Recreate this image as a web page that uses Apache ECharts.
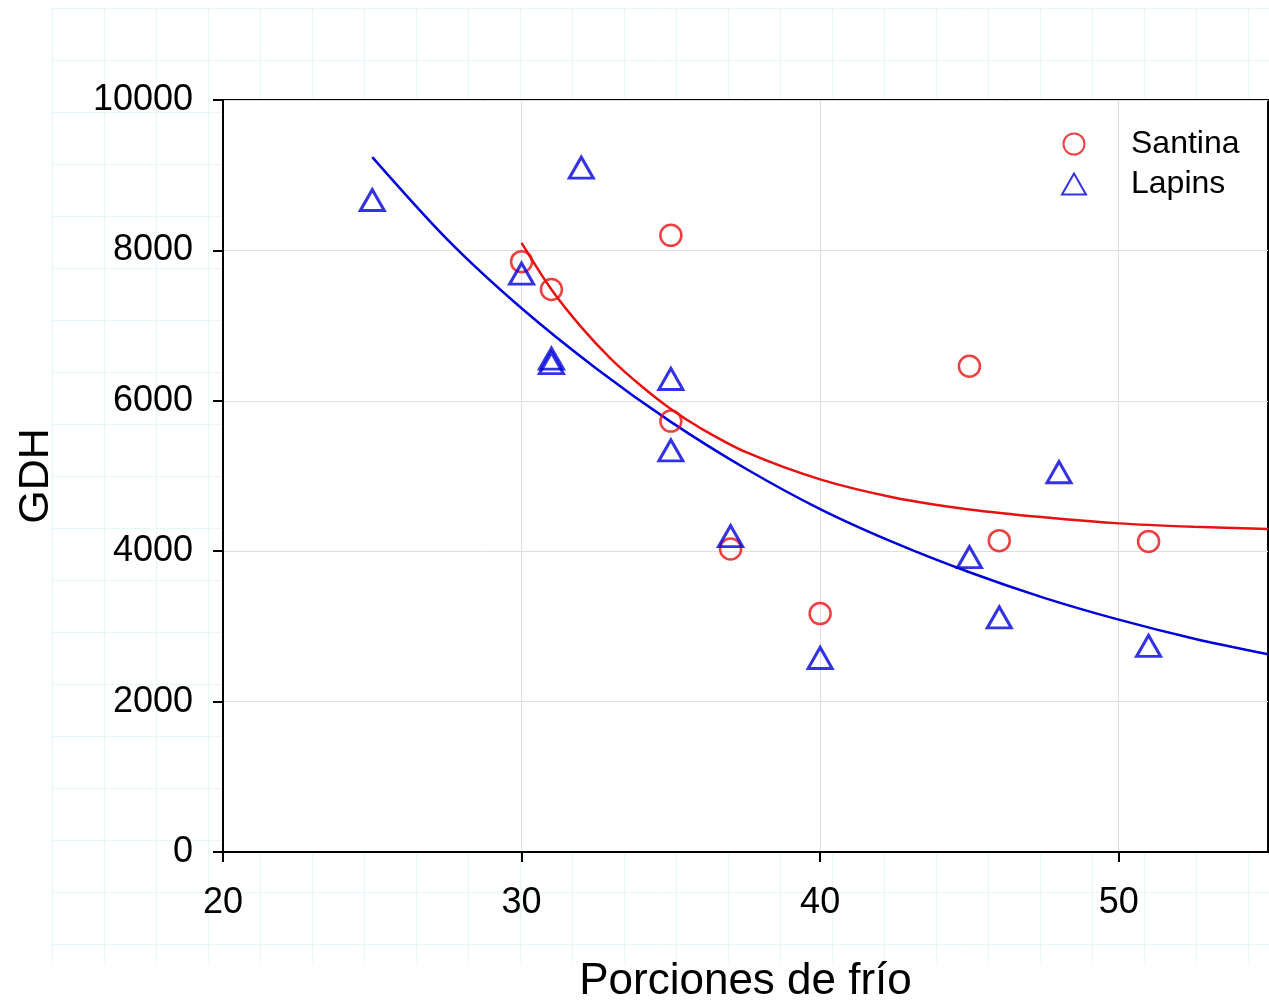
<!DOCTYPE html>
<html>
<head>
<meta charset="utf-8">
<script src="https://cdn.jsdelivr.net/npm/echarts@6/dist/echarts.min.js"></script>
<style>html,body{margin:0;padding:0;background:#fff;}#c{width:1269px;height:1001px;}</style>
</head>
<body>
<div id="c"></div>
<script>
// Observed data
var santinaX = [30, 31, 35, 35, 37, 40, 45, 46, 51];
var santinaY = [7850, 7480, 8200, 5730, 4030, 3170, 6460, 4140, 4130];
var lapinsX = [25, 30, 31, 31, 32, 35, 35, 37, 40, 45, 46, 48, 51];
var lapinsY = [8670, 7690, 6560, 6500, 9100, 6290, 5340, 4200, 2580, 3920, 3120, 5050, 2740];
// Fitted curves
var santinaFitX = [30, 31, 32, 33, 34, 35, 36, 37.5, 40, 42.5, 45, 47.5, 50, 52.5, 55];
var santinaFitY = [8100, 7480, 6980, 6555, 6200, 5890, 5635, 5320, 4955, 4712, 4555, 4450, 4370, 4325, 4295];
var lapinsFitX = [25, 27.5, 30, 32.5, 35, 37.5, 40, 42.5, 45, 47.5, 50, 52.5, 55];
var lapinsFitY = [9240, 8150, 7230, 6430, 5720, 5100, 4560, 4110, 3720, 3380, 3090, 2840, 2630];
var xTicks = [20, 30, 40, 50];

function pairs(xs, ys) { return xs.map(function (x, i) { return [x, ys[i]]; }); }

var FONT = '"Liberation Sans", Arial, sans-serif';
var chart = echarts.init(document.getElementById('c'), null, {renderer: 'canvas'});
var pageGridColor = '#e6f5f5';
var RED = '#e81010', BLUE = '#0000dd';
chart.setOption({
  backgroundColor: '#ffffff',
  animation: false,
  textStyle: {fontFamily: FONT},
  grid: [
    {left: 223, top: 100, width: 1045, height: 752, show: true, backgroundColor: '#ffffff',
     borderColor: '#000', borderWidth: 2, z: 1, containLabel: false, outerBoundsMode: 'none'},
    {left: 52, top: 8, width: 1217, height: 954, show: false, z: 0, outerBoundsMode: 'none'}
  ],
  legend: {
    orient: 'vertical', left: 1061, top: 128, padding: 0, itemGap: 8,
    itemWidth: 24, itemHeight: 21,
    data: ['Santina', 'Lapins'],
    textStyle: {fontFamily: FONT, fontSize: 32, color: '#000', padding: [0, 0, 0, 40]}
  },
  xAxis: [
    {gridIndex: 0, type: 'value', min: 20, max: 55, interval: 10, z: 2,
     name: 'Porciones de frío', nameLocation: 'middle', nameGap: 108,
     nameTextStyle: {fontFamily: FONT, fontSize: 44, color: '#000'},
     axisLine: {show: true, lineStyle: {color: '#000', width: 2}},
     axisTick: {show: true, length: 10, inside: false, lineStyle: {color: '#000', width: 2}, customValues: xTicks},
     axisLabel: {fontFamily: FONT, fontSize: 36, color: '#000', margin: 33, customValues: xTicks,
                 formatter: function (v) { return String(v); }},
     splitLine: {show: true, lineStyle: {color: '#dedede', width: 1}}},
    {gridIndex: 1, type: 'value', min: 0, max: 1217 / 52, interval: 1, z: 0,
     axisLine: {show: false}, axisTick: {show: false}, axisLabel: {show: false},
     splitLine: {show: true, showMaxLine: false, lineStyle: {color: pageGridColor, width: 1}}}
  ],
  yAxis: [
    {gridIndex: 0, type: 'value', min: 0, max: 10000, interval: 2000, z: 2,
     name: 'GDH', nameLocation: 'middle', nameGap: 165,
     nameTextStyle: {fontFamily: FONT, fontSize: 43, color: '#000'},
     axisLine: {show: true, lineStyle: {color: '#000', width: 2}},
     axisTick: {show: true, length: 10, inside: false, lineStyle: {color: '#000', width: 2}},
     axisLabel: {fontFamily: FONT, fontSize: 36, color: '#000', margin: 30,
                 formatter: function (v) { return String(v); }},
     splitLine: {show: true, lineStyle: {color: '#dedede', width: 1}}},
    {gridIndex: 1, type: 'value', min: 0, max: 954 / 52, interval: 1, inverse: true, z: 0,
     axisLine: {show: false}, axisTick: {show: false}, axisLabel: {show: false},
     splitLine: {show: true, showMaxLine: false, lineStyle: {color: pageGridColor, width: 1}}}
  ],
  series: [
    {name: 'Santina fit', type: 'line', xAxisIndex: 0, yAxisIndex: 0, z: 3,
     data: pairs(santinaFitX, santinaFitY), smooth: 0.3, showSymbol: false,
     lineStyle: {color: RED, width: 2.5}, itemStyle: {color: RED}, silent: true},
    {name: 'Lapins fit', type: 'line', xAxisIndex: 0, yAxisIndex: 0, z: 3,
     data: pairs(lapinsFitX, lapinsFitY), smooth: 0.3, showSymbol: false,
     lineStyle: {color: BLUE, width: 2.5}, itemStyle: {color: BLUE}, silent: true},
    {name: 'Santina', type: 'scatter', xAxisIndex: 0, yAxisIndex: 0, z: 4,
     data: pairs(santinaX, santinaY), symbol: 'circle', symbolSize: 21,
     itemStyle: {color: 'rgba(255,255,255,0)', borderColor: RED, borderWidth: 2.5}},
    {name: 'Lapins', type: 'scatter', xAxisIndex: 0, yAxisIndex: 0, z: 5,
     data: pairs(lapinsX, lapinsY), symbol: 'triangle', symbolSize: [24, 21],
     itemStyle: {color: 'rgba(255,255,255,0)', borderColor: BLUE, borderWidth: 3}}
  ]
});
</script>
</body>
</html>
